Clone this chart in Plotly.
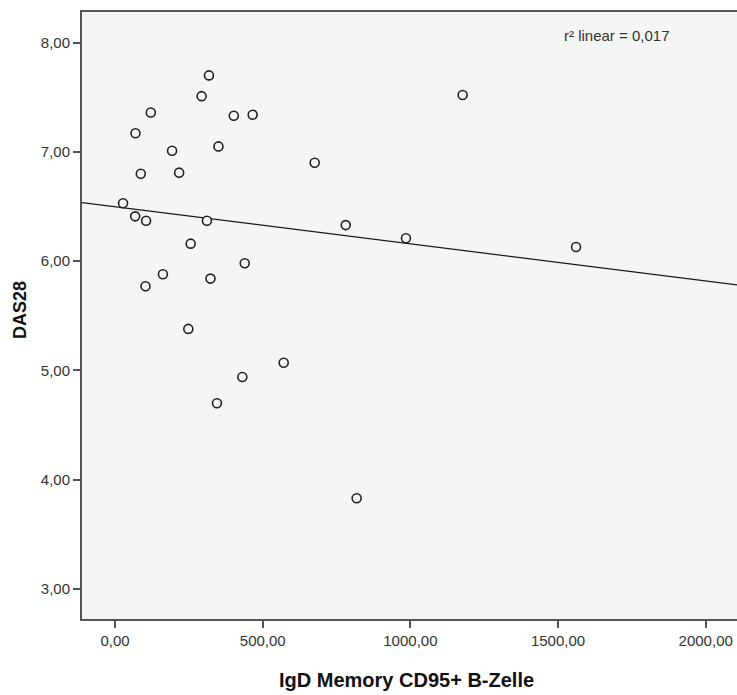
import numpy as np
import plotly.graph_objects as go

# IgD memory CD95+ B cells vs. DAS28 score
igd_cd95 = [27, 68, 105, 69, 121, 87, 193, 217, 318, 293, 402, 466, 350, 676, 781,
            311, 256, 439, 323, 162, 103, 248, 345, 431, 571, 818, 1177, 985, 1561]
das28 = [6.53, 6.41, 6.37, 7.17, 7.36, 6.80, 7.01, 6.81, 7.70, 7.51, 7.33, 7.34, 7.05, 6.90, 6.33,
         6.37, 6.16, 5.98, 5.84, 5.88, 5.77, 5.38, 4.70, 4.94, 5.07, 3.83, 7.52, 6.21, 6.13]

x_ticks = [0, 500, 1000, 1500, 2000]
x_tick_labels = ["0,00", "500,00", "1000,00", "1500,00", "2000,00"]
y_ticks = [3, 4, 5, 6, 7, 8]
y_tick_labels = ["3,00", "4,00", "5,00", "6,00", "7,00", "8,00"]

x_range = [-112, 2106]
y_range = [2.725, 8.28]

# least-squares line over the full x range
xa = np.array(igd_cd95, dtype=float)
ya = np.array(das28, dtype=float)
slope, intercept = np.polyfit(xa, ya, 1)
pred = slope * xa + intercept
r2 = 1 - np.sum((ya - pred) ** 2) / np.sum((ya - ya.mean()) ** 2)
fit_x = np.array(x_range, dtype=float)
fit_y = slope * fit_x + intercept

BG = "#f5f5f5"
AXIS = "#555555"
FONT = "Liberation Sans, Arial, sans-serif"

fig = go.Figure()
fig.add_trace(go.Scatter(
    x=fit_x, y=fit_y, mode="lines",
    line=dict(color="#1a1a1a", width=1.2),
    hoverinfo="skip", showlegend=False,
))
fig.add_trace(go.Scatter(
    x=igd_cd95, y=das28, mode="markers",
    marker=dict(symbol="circle", size=9, color=BG,
                line=dict(color="#222222", width=1.6)),
    showlegend=False,
))

fig.add_annotation(
    x=0.816, y=0.961, xref="paper", yref="paper",
    text="r² linear = " + f"{r2:.3f}".replace(".", ","),
    showarrow=False, xanchor="center", yanchor="middle",
    font=dict(family=FONT, size=15, color="#333333"),
)
# axis titles
fig.add_annotation(
    x=0.496, y=-0.1005, xref="paper", yref="paper",
    text="<b>IgD Memory CD95+ B-Zelle</b>",
    showarrow=False, xanchor="center", yanchor="middle",
    font=dict(family=FONT, size=20, color="#111111"),
)
fig.add_annotation(
    x=-0.0947, y=0.509, xref="paper", yref="paper",
    text="<b>DAS28</b>", textangle=-90,
    showarrow=False, xanchor="center", yanchor="middle",
    font=dict(family=FONT, size=18, color="#111111"),
)

fig.update_layout(
    width=737, height=695,
    margin=dict(l=82, r=0, t=12, b=76),
    paper_bgcolor="white", plot_bgcolor=BG,
    font=dict(family=FONT, color="#333333"),
)
fig.update_xaxes(
    range=x_range, tickmode="array", tickvals=x_ticks, ticktext=x_tick_labels,
    showgrid=False, zeroline=False,
    showline=True, linecolor=AXIS, linewidth=2, mirror=True,
    ticks="outside", ticklen=7, tickwidth=2, tickcolor=AXIS,
    tickfont=dict(family=FONT, size=15, color="#333333"),
)
fig.update_yaxes(
    range=y_range, tickmode="array", tickvals=y_ticks, ticktext=y_tick_labels,
    showgrid=False, zeroline=False,
    showline=True, linecolor=AXIS, linewidth=2,
    ticks="outside", ticklen=7, tickwidth=2, tickcolor=AXIS,
    tickfont=dict(family=FONT, size=15, color="#333333"),
)

fig.write_html("out.html")
